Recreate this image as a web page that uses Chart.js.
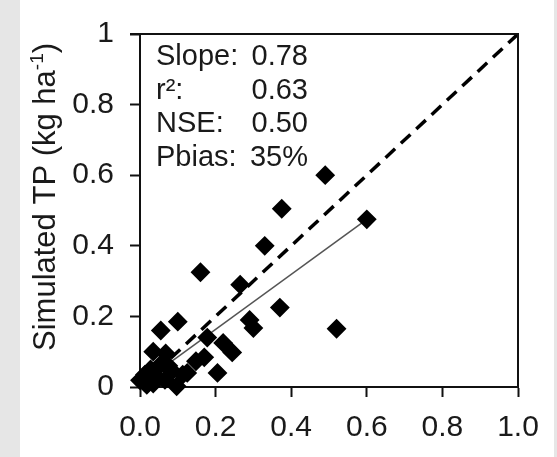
<!DOCTYPE html>
<html>
<head>
<meta charset="utf-8">
<script src="https://cdn.jsdelivr.net/npm/chart.js@4"></script>
<style>
  body { margin: 0; background: #e6e6e6; }
  canvas { display: block; }
</style>
</head>
<body>
<canvas id="chart" width="557" height="457"></canvas>
<script>
// observed vs simulated TP (kg/ha)
const observed = [0.49, 0.60, 0.52, 0.375, 0.33, 0.265, 0.37, 0.29, 0.30, 0.16,
  0.10, 0.055, 0.178, 0.22, 0.244, 0.205, 0.148, 0.17, 0.113, 0.125,
  0.097, 0.035, 0.068, 0.053, 0.075, 0.044, 0.013, 0.0, 0.018, 0.035,
  0.066, 0.028, 0.085];
const simulated = [0.60, 0.475, 0.165, 0.505, 0.40, 0.29, 0.225, 0.19, 0.167, 0.325,
  0.185, 0.16, 0.14, 0.125, 0.098, 0.04, 0.073, 0.084, 0.035, 0.04,
  0.002, 0.10, 0.095, 0.062, 0.06, 0.028, 0.035, 0.019, 0.006, 0.01,
  0.02, 0.05, 0.045];

// 1:1 line and fitted line ends
const oneToOneX = [0, 1];
const oneToOneY = [0, 1];
const fitX = [0.07, 0.60];
const fitY = [0.062, 0.475];

const xTickLabels = ["0.0", "0.2", "0.4", "0.6", "0.8", "1.0"];
const yTickLabels = ["0", "0.2", "0.4", "0.6", "0.8", "1"];

const statNames = ["Slope:", "r\u00b2:", "NSE:", "Pbias:"];
const statValues = ["0.78", "0.63", "0.50", "35%"];

const FONT = "'Liberation Sans', Arial, sans-serif";

const toPoints = (xs, ys) => xs.map((x, i) => ({ x: x, y: ys[i] }));

// gray page with white panel
const background = {
  id: "background",
  beforeDraw(chart) {
    const ctx = chart.ctx;
    ctx.save();
    ctx.fillStyle = "#e6e6e6";
    ctx.fillRect(0, 0, chart.width, chart.height);
    ctx.fillStyle = "#ffffff";
    ctx.fillRect(20, 0, 534, chart.height);
    ctx.restore();
  }
};

// top/right box lines, stats text, y title with superscript
const extras = {
  id: "extras",
  afterDraw(chart) {
    const ctx = chart.ctx;
    const a = chart.chartArea;
    ctx.save();
    ctx.strokeStyle = "#111";
    ctx.lineWidth = 2;
    ctx.beginPath();
    ctx.moveTo(a.left - 10, a.top);
    ctx.lineTo(a.right, a.top);
    ctx.lineTo(a.right, a.bottom);
    ctx.stroke();

    ctx.fillStyle = "#1a1a1a";
    ctx.font = "29px " + FONT;
    ctx.textBaseline = "alphabetic";
    statNames.forEach((n, i) => {
      const y = 65 + i * 33.5;
      ctx.textAlign = "left";
      ctx.fillText(n, 156, y);
      ctx.textAlign = "right";
      ctx.fillText(statValues[i], 308, y);
    });

    // y axis title
    ctx.translate(55, 351);
    ctx.rotate(-Math.PI / 2);
    ctx.textAlign = "left";
    ctx.font = "31px " + FONT;
    const part1 = "Simulated TP (kg ha";
    let x = 0;
    ctx.fillText(part1, x, 0);
    x += ctx.measureText(part1).width;
    ctx.font = "19px " + FONT;
    ctx.fillText("-1", x, -12);
    x += ctx.measureText("-1").width;
    ctx.font = "31px " + FONT;
    ctx.fillText(")", x, 0);
    ctx.restore();
  }
};

new Chart(document.getElementById("chart"), {
  type: "scatter",
  data: {
    datasets: [
      {
        data: toPoints(observed, simulated),
        pointStyle: "rectRot",
        pointRadius: 8.5,
        pointHoverRadius: 8.5,
        backgroundColor: "#000",
        borderColor: "#000",
        borderWidth: 2,
        clip: false
      },
      {
        data: toPoints(fitX, fitY),
        showLine: true,
        pointRadius: 0,
        borderColor: "#555",
        borderWidth: 1.5
      },
      {
        data: toPoints(oneToOneX, oneToOneY),
        showLine: true,
        pointRadius: 0,
        borderColor: "#000",
        borderWidth: 3.5,
        borderDash: [13, 8]
      }
    ]
  },
  options: {
    responsive: false,
    devicePixelRatio: 1,
    animation: false,
    layout: { padding: { left: 20, right: 39, top: 25, bottom: 0 } },
    plugins: { legend: { display: false }, tooltip: { enabled: false } },
    scales: {
      x: {
        type: "linear",
        min: 0,
        max: 1,
        afterFit(s) { s.height = 70; },
        border: { color: "#111", width: 2 },
        grid: { drawOnChartArea: false, tickLength: 10, tickColor: "#111", tickWidth: 2 },
        ticks: {
          stepSize: 0.2,
          padding: 13,
          color: "#1a1a1a",
          font: { family: FONT, size: 30 },
          callback: (v, i) => xTickLabels[i]
        }
      },
      y: {
        type: "linear",
        min: 0,
        max: 1,
        afterFit(s) { s.width = 120; },
        border: { color: "#111", width: 2 },
        grid: { drawOnChartArea: false, tickLength: 10, tickColor: "#111", tickWidth: 2 },
        ticks: {
          stepSize: 0.2,
          padding: 16,
          color: "#1a1a1a",
          font: { family: FONT, size: 30 },
          callback: (v, i) => yTickLabels[i]
        }
      }
    }
  },
  plugins: [background, extras]
});
</script>
</body>
</html>
